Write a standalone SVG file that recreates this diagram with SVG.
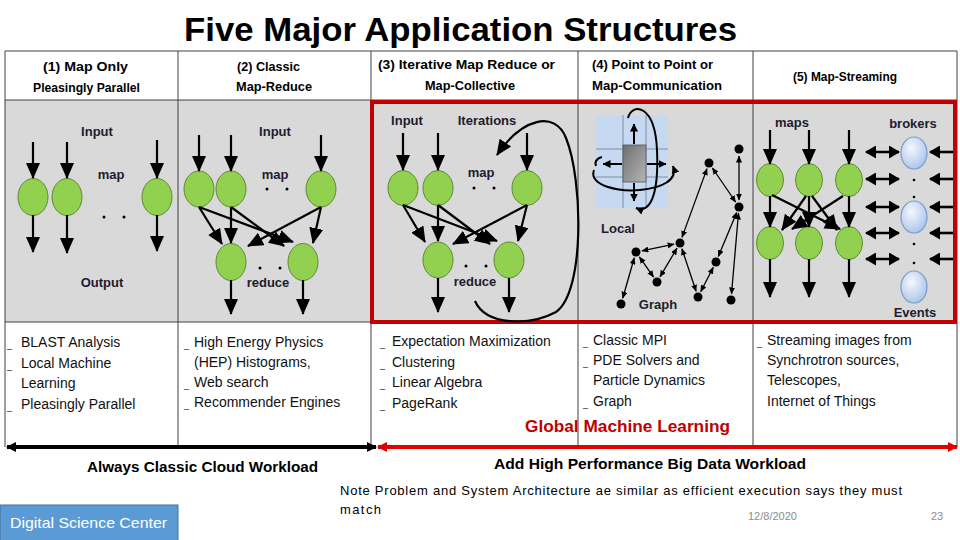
<svg xmlns="http://www.w3.org/2000/svg" width="960" height="540" viewBox="0 0 960 540">
<defs>
<style>
.t{font-family:"Liberation Sans",Arial,sans-serif;fill:#000}
.hd{font-size:13px;font-weight:bold}
.lb{font-size:13px;font-weight:bold;fill:#1c1c30}
.li{font-size:14px;fill:#111}
.bu{font-size:9px;fill:#111}
.g{fill:#92d050;stroke:#5f8a34;stroke-width:1}
.br{fill:url(#bg);stroke:#7a9bc7;stroke-width:1.2}
.ar{stroke:#000;stroke-width:2.2;fill:none;marker-end:url(#ah)}
.da{stroke:#000;stroke-width:2.6;fill:none;marker-end:url(#ad);marker-start:url(#ad)}
.la{stroke:#000;stroke-width:2.6;fill:none;marker-end:url(#ad)}
.ge{stroke:#000;stroke-width:1.3;fill:none;marker-end:url(#as);marker-start:url(#as)}
.sa{stroke:#000;stroke-width:2;fill:none;marker-end:url(#am)}
.grid{stroke:#7f8ea3;stroke-width:1}
.cl{stroke:#404040;stroke-width:1}
</style>
<marker id="ah" viewBox="0 0 16 14" refX="15" refY="7" markerWidth="16" markerHeight="14" markerUnits="userSpaceOnUse" orient="auto-start-reverse"><path d="M0,0 L16,7 L0,14 z" fill="#000"/></marker>
<marker id="ad" viewBox="0 0 11 13" refX="10" refY="6.5" markerWidth="11" markerHeight="13" markerUnits="userSpaceOnUse" orient="auto-start-reverse"><path d="M0,0 L11,6.5 L0,13 z" fill="#000"/></marker>
<marker id="as" viewBox="0 0 7 6" refX="6.5" refY="3" markerWidth="7" markerHeight="6" markerUnits="userSpaceOnUse" orient="auto-start-reverse"><path d="M0,0 L7,3 L0,6 z" fill="#000"/></marker>
<marker id="am" viewBox="0 0 8 8" refX="7.5" refY="4" markerWidth="8" markerHeight="8" markerUnits="userSpaceOnUse" orient="auto-start-reverse"><path d="M0,0 L8,4 L0,8 z" fill="#000"/></marker>
<marker id="bk" viewBox="0 0 10 10" refX="9" refY="5" markerWidth="10" markerHeight="10" markerUnits="userSpaceOnUse" orient="auto-start-reverse"><path d="M0,0 L10,5 L0,10 z" fill="#000"/></marker>
<marker id="rd" viewBox="0 0 10 10" refX="9" refY="5" markerWidth="10" markerHeight="10" markerUnits="userSpaceOnUse" orient="auto-start-reverse"><path d="M0,0 L10,5 L0,10 z" fill="#e00000"/></marker>
<radialGradient id="bg" cx="0.4" cy="0.35" r="0.7"><stop offset="0" stop-color="#f4f8fe"/><stop offset="1" stop-color="#a9c3e8"/></radialGradient>
<linearGradient id="gb" x1="0" y1="0" x2="1" y2="1"><stop offset="0" stop-color="#6f6f6f"/><stop offset="1" stop-color="#b5b5b5"/></linearGradient>
</defs>
<rect width="960" height="540" fill="#fff"/>

<text class="t" x="184" y="41" font-size="34" font-weight="bold" textLength="553" lengthAdjust="spacingAndGlyphs">Five Major Application Structures</text>

<g id="table">
<rect x="5" y="100" width="952" height="222" fill="#d9d9d9"/>
<line class="cl" x1="5" y1="51" x2="957" y2="51" stroke="#7f7f7f"/>
<line class="cl" x1="5" y1="100" x2="957" y2="100"/>
<line class="cl" x1="5" y1="322" x2="957" y2="322"/>
<line class="cl" x1="5" y1="51" x2="5" y2="447"/>
<line class="cl" x1="178" y1="51" x2="178" y2="447"/>
<line class="cl" x1="371" y1="51" x2="371" y2="447"/>
<line class="cl" x1="578" y1="51" x2="578" y2="447"/>
<line class="cl" x1="753" y1="51" x2="753" y2="447"/>
<line class="cl" x1="957" y1="51" x2="957" y2="447"/>
</g>

<g id="headers">
<text class="t hd" x="43" y="71" textLength="85" lengthAdjust="spacingAndGlyphs">(1)  Map Only</text>
<text class="t hd" x="33" y="92" textLength="107" lengthAdjust="spacingAndGlyphs">Pleasingly Parallel</text>
<text class="t hd" x="237" y="71" textLength="63" lengthAdjust="spacingAndGlyphs">(2)  Classic</text>
<text class="t hd" x="236" y="91" textLength="76" lengthAdjust="spacingAndGlyphs">Map-Reduce</text>
<text class="t hd" x="378" y="69" textLength="177" lengthAdjust="spacingAndGlyphs">(3)  Iterative    Map Reduce or</text>
<text class="t hd" x="425" y="90" textLength="90" lengthAdjust="spacingAndGlyphs">Map-Collective</text>
<text class="t hd" x="592" y="69" textLength="121" lengthAdjust="spacingAndGlyphs">(4) Point to Point or</text>
<text class="t hd" x="592" y="90" textLength="130" lengthAdjust="spacingAndGlyphs">Map-Communication</text>
<text class="t hd" x="793" y="81" textLength="104" lengthAdjust="spacingAndGlyphs">(5) Map-Streaming</text>
</g>

<!-- Panel 1 -->
<g id="panel1">
<text class="t lb" x="97" y="136" text-anchor="middle">Input</text>
<text class="t lb" x="111" y="179" text-anchor="middle">map</text>
<text class="t lb" x="102" y="287" text-anchor="middle">Output</text>
<circle cx="104" cy="217" r="1.5"/><circle cx="124" cy="217" r="1.5"/>
<g id="p1m1"><ellipse class="g" cx="33" cy="197" rx="15" ry="18.5"/></g>
<g id="p1m2"><ellipse class="g" cx="67" cy="197" rx="15" ry="18.5"/></g>
<g id="p1m3"><ellipse class="g" cx="157" cy="197" rx="15" ry="18.5"/></g>
</g>

<!-- Panel 2 -->
<g id="panel2">
<text class="t lb" x="275" y="136" text-anchor="middle">Input</text>
<text class="t lb" x="275" y="179" text-anchor="middle">map</text>
<circle cx="267" cy="189" r="1.5"/><circle cx="287" cy="189" r="1.5"/>
<text class="t lb" x="268" y="287" text-anchor="middle">reduce</text>
<circle cx="260" cy="268" r="1.5"/><circle cx="280" cy="268" r="1.5"/>
<g id="p2m1"><ellipse class="g" cx="199" cy="189" rx="15" ry="18"/></g>
<g id="p2m2"><ellipse class="g" cx="231" cy="189" rx="15" ry="18"/></g>
<g id="p2m3"><ellipse class="g" cx="321" cy="189" rx="15" ry="18"/></g>
<g id="p2r1"><ellipse class="g" cx="231" cy="262" rx="15" ry="18.5"/></g>
<g id="p2r2"><ellipse class="g" cx="303" cy="262" rx="15" ry="18.5"/></g>
</g>

<!-- Panel 3 -->
<g id="panel3">
<text class="t lb" x="407" y="125" text-anchor="middle">Input</text>
<text class="t lb" x="487" y="125" text-anchor="middle">Iterations</text>
<text class="t lb" x="481" y="177" text-anchor="middle">map</text>
<circle cx="474" cy="188" r="1.5"/><circle cx="494" cy="188" r="1.5"/>
<text class="t lb" x="475" y="286" text-anchor="middle">reduce</text>
<circle cx="466" cy="266" r="1.5"/><circle cx="486" cy="266" r="1.5"/>
<g id="p3m1"><ellipse class="g" cx="403" cy="188" rx="15" ry="17.5"/></g>
<g id="p3m2"><ellipse class="g" cx="438" cy="188" rx="15" ry="17.5"/></g>
<g id="p3m3"><ellipse class="g" cx="527" cy="188" rx="15" ry="17.5"/></g>
<g id="p3r1"><ellipse class="g" cx="438" cy="260" rx="15" ry="18"/></g>
<g id="p3r2"><ellipse class="g" cx="509" cy="260" rx="15" ry="18"/></g>
</g>

<!-- Panel 4 -->
<g id="panel4">
<g id="local">
<rect x="596" y="115" width="72" height="93" fill="#c6d9f1"/>
<line class="grid" x1="623" y1="115" x2="623" y2="208"/>
<line class="grid" x1="646" y1="115" x2="646" y2="208"/>
<line class="grid" x1="596" y1="149" x2="668" y2="149"/>
<line class="grid" x1="596" y1="177" x2="668" y2="177"/>
<rect x="623" y="145" width="23" height="37" fill="url(#gb)" stroke="#555" stroke-width="0.8"/>
<line class="sa" x1="634" y1="144" x2="634" y2="124"/>
<line class="sa" x1="622" y1="164" x2="603" y2="164"/>
<line class="sa" x1="647" y1="164" x2="666" y2="164"/>
<line class="sa" x1="634" y1="183" x2="634" y2="201"/>
<path class="sa" d="M594,170 C588,186 620,192 640,190 C662,188 678,180 673,166"/>
<path d="M596,166 C594,161 598,158 602,157" stroke="#000" stroke-width="2" fill="none"/>
<path class="sa" d="M628,118 C632,102 655,104 657,150 C659,195 650,214 636,208"/>
<text class="t lb" x="618" y="233" text-anchor="middle">Local</text>
</g>
<g id="graph">
<text class="t lb" x="658" y="309" text-anchor="middle">Graph</text>
<g id="ga"><circle cx="739" cy="149" r="4.5"/></g>
<g id="gb1"><circle cx="709" cy="163" r="4.5"/></g>
<g id="gc"><circle cx="739" cy="207" r="4.5"/></g>
<g id="gd"><circle cx="680" cy="243" r="4.5"/></g>
<g id="ge"><circle cx="636" cy="252" r="4.5"/></g>
<g id="gf"><circle cx="657" cy="282" r="4.5"/></g>
<g id="gg"><circle cx="716" cy="262" r="4.5"/></g>
<g id="gh"><circle cx="698" cy="297" r="4.5"/></g>
<g id="gi"><circle cx="731" cy="300" r="4.5"/></g>
<g id="gj"><circle cx="621" cy="304" r="4.5"/></g>
</g>
</g>

<!-- Panel 5 -->
<g id="panel5">
<text class="t lb" x="792" y="127" text-anchor="middle">maps</text>
<text class="t lb" x="913" y="128" text-anchor="middle">brokers</text>
<text class="t lb" x="915" y="317" text-anchor="middle">Events</text>
<g id="p5m1"><ellipse class="g" cx="770" cy="180" rx="13.5" ry="16.5"/></g>
<g id="p5m2"><ellipse class="g" cx="809" cy="180" rx="13.5" ry="16.5"/></g>
<g id="p5m3"><ellipse class="g" cx="849" cy="180" rx="13.5" ry="16.5"/></g>
<g id="p5s1"><ellipse class="g" cx="770" cy="243" rx="13.5" ry="16.5"/></g>
<g id="p5s2"><ellipse class="g" cx="809" cy="243" rx="13.5" ry="16.5"/></g>
<g id="p5s3"><ellipse class="g" cx="849" cy="243" rx="13.5" ry="16.5"/></g>
<g id="b1"><ellipse class="br" cx="914" cy="153" rx="13" ry="16"/></g>
<g id="b2"><ellipse class="br" cx="914" cy="217" rx="13" ry="16"/></g>
<g id="b3"><ellipse class="br" cx="914" cy="287" rx="13" ry="16"/></g>
<circle cx="914" cy="180" r="1.3"/><circle cx="914" cy="197" r="1.3"/>
<circle cx="914" cy="244" r="1.3"/><circle cx="914" cy="263" r="1.3"/>
</g>

<!-- Red highlight box -->
<rect x="372" y="102" width="583" height="220" fill="none" stroke="#c00000" stroke-width="4"/>

<g id="connectors">
<!-- panel 1 -->
<line class="ar" x1="33" y1="142" x2="33" y2="178"/>
<line class="ar" x1="67" y1="142" x2="67" y2="178"/>
<line class="ar" x1="157" y1="140" x2="157" y2="178"/>
<line class="ar" x1="33" y1="215" x2="33" y2="252"/>
<line class="ar" x1="67" y1="215" x2="67" y2="253"/>
<line class="ar" x1="157" y1="215" x2="157" y2="251"/>
<!-- panel 2 -->
<line class="ar" x1="199" y1="135" x2="199" y2="171"/>
<line class="ar" x1="231" y1="135" x2="231" y2="171"/>
<line class="ar" x1="321" y1="135" x2="321" y2="171"/>
<line class="ar" x1="199" y1="207" x2="222" y2="244"/>
<line class="ar" x1="199" y1="207" x2="293" y2="242"/>
<line class="ar" x1="231" y1="207" x2="231" y2="243"/>
<line class="ar" x1="231" y1="207" x2="284" y2="246"/>
<line class="ar" x1="321" y1="207" x2="248" y2="246"/>
<line class="ar" x1="321" y1="207" x2="313" y2="243"/>
<line class="ar" x1="231" y1="280" x2="231" y2="314"/>
<line class="ar" x1="303" y1="280" x2="303" y2="314"/>
<!-- panel 3 -->
<line class="ar" x1="403" y1="133" x2="403" y2="170"/>
<line class="ar" x1="438" y1="133" x2="438" y2="170"/>
<line class="ar" x1="527" y1="133" x2="527" y2="170"/>
<line class="ar" x1="403" y1="205" x2="425" y2="242"/>
<line class="ar" x1="403" y1="205" x2="497" y2="241"/>
<line class="ar" x1="438" y1="205" x2="438" y2="241"/>
<line class="ar" x1="438" y1="205" x2="490" y2="244"/>
<line class="ar" x1="527" y1="205" x2="453" y2="244"/>
<line class="ar" x1="527" y1="205" x2="518" y2="241"/>
<line class="ar" x1="438" y1="278" x2="438" y2="312"/>
<line class="ar" x1="509" y1="278" x2="509" y2="312"/>
<path class="ar" d="M475,301 C486,326 530,326 556,312 C585,292 583,180 566,138 C555,110 522,118 497,155"/>
<!-- panel 4 graph edges -->
<line class="ge" x1="739" y1="156" x2="739" y2="200"/>
<line class="ge" x1="712.4" y1="168" x2="735.6" y2="202"/>
<line class="ge" x1="707" y1="168.6" x2="682" y2="237.4"/>
<line class="ge" x1="674.1" y1="244.2" x2="641.9" y2="250.8"/>
<line class="ge" x1="639.4" y1="256.9" x2="653.6" y2="277.1"/>
<line class="ge" x1="660" y1="276.8" x2="677" y2="248.2"/>
<line class="ge" x1="681.9" y1="248.7" x2="696.1" y2="291.3"/>
<line class="ge" x1="700.7" y1="291.7" x2="713.3" y2="267.3"/>
<line class="ge" x1="718.3" y1="256.5" x2="736.7" y2="212.5"/>
<line class="ge" x1="738.5" y1="213" x2="731.5" y2="294"/>
<line class="ge" x1="634.3" y1="257.8" x2="622.7" y2="298.2"/>
<!-- panel 5 -->
<line class="ar" x1="770" y1="130" x2="770" y2="164"/>
<line class="ar" x1="809" y1="130" x2="809" y2="164"/>
<line class="ar" x1="849" y1="130" x2="849" y2="164"/>
<line class="ar" x1="770" y1="196" x2="770" y2="227"/>
<line class="ar" x1="809" y1="196" x2="809" y2="227"/>
<line class="ar" x1="849" y1="196" x2="849" y2="227"/>
<line class="ar" x1="772" y1="195" x2="840" y2="229"/>
<line class="ar" x1="806" y1="196" x2="782" y2="230"/>
<line class="ar" x1="812" y1="196" x2="837" y2="230"/>
<line class="ar" x1="843" y1="196" x2="792" y2="229"/>
<line class="ar" x1="770" y1="259" x2="770" y2="297"/>
<line class="ar" x1="809" y1="259" x2="809" y2="297"/>
<line class="ar" x1="849" y1="259" x2="849" y2="297"/>
<line class="da" x1="866" y1="152" x2="899" y2="152"/>
<line class="da" x1="866" y1="179" x2="899" y2="179"/>
<line class="da" x1="866" y1="207" x2="899" y2="207"/>
<line class="da" x1="866" y1="233" x2="899" y2="233"/>
<line class="da" x1="866" y1="259" x2="899" y2="259"/>
<line class="la" x1="953" y1="152" x2="930" y2="152"/>
<line class="la" x1="953" y1="179" x2="930" y2="179"/>
<line class="la" x1="953" y1="207" x2="930" y2="207"/>
<line class="la" x1="953" y1="233" x2="930" y2="233"/>
<line class="la" x1="953" y1="259" x2="930" y2="259"/>
<!-- workload arrows -->
<line x1="7" y1="447" x2="376" y2="447" stroke="#000" stroke-width="4" marker-start="url(#bk)" marker-end="url(#bk)"/>
<line x1="378" y1="447" x2="957" y2="447" stroke="#e00000" stroke-width="4" marker-start="url(#rd)" marker-end="url(#rd)"/>
</g>

<g id="lists">
<text class="t bu" x="7" y="348">_</text><text class="t li" x="21" y="347">BLAST Analysis</text>
<text class="t bu" x="7" y="369">_</text><text class="t li" x="21" y="368">Local Machine</text>
<text class="t li" x="21" y="388">Learning</text>
<text class="t bu" x="7" y="410">_</text><text class="t li" x="21" y="409">Pleasingly Parallel</text>

<text class="t bu" x="184" y="348">_</text><text class="t li" x="194" y="347">High Energy Physics</text>
<text class="t li" x="194" y="367">(HEP) Histograms,</text>
<text class="t bu" x="184" y="388">_</text><text class="t li" x="194" y="387">Web search</text>
<text class="t bu" x="184" y="408">_</text><text class="t li" x="194" y="407">Recommender Engines</text>

<text class="t bu" x="380" y="347">_</text><text class="t li" x="392" y="346">Expectation Maximization</text>
<text class="t bu" x="380" y="368">_</text><text class="t li" x="392" y="367">Clustering</text>
<text class="t bu" x="380" y="388">_</text><text class="t li" x="392" y="387">Linear Algebra</text>
<text class="t bu" x="380" y="409">_</text><text class="t li" x="392" y="408">PageRank</text>

<text class="t bu" x="583" y="346">_</text><text class="t li" x="593" y="345">Classic MPI</text>
<text class="t bu" x="583" y="366">_</text><text class="t li" x="593" y="365">PDE Solvers and</text>
<text class="t li" x="593" y="385">Particle Dynamics</text>
<text class="t bu" x="583" y="407">_</text><text class="t li" x="593" y="406">Graph</text>

<text class="t bu" x="757" y="346">_</text><text class="t li" x="767" y="345">Streaming images from</text>
<text class="t li" x="767" y="365">Synchrotron sources,</text>
<text class="t li" x="767" y="385">Telescopes,</text>
<text class="t li" x="767" y="406">Internet  of Things</text>

<text class="t" x="525" y="432" font-size="16" font-weight="bold" style="fill:#c00000" textLength="205" lengthAdjust="spacingAndGlyphs">Global Machine Learning</text>
</g>

<g id="footer">
<text class="t" x="87" y="472" font-size="15" font-weight="bold" textLength="231" lengthAdjust="spacingAndGlyphs">Always Classic Cloud Workload</text>
<text class="t" x="494" y="469" font-size="15" font-weight="bold" textLength="312" lengthAdjust="spacingAndGlyphs">Add High Performance Big Data Workload</text>
<text class="t" x="340" y="495" font-size="13" textLength="562" lengthAdjust="spacing">Note Problem and System Architecture ae similar as efficient execution says they must</text>
<text class="t" x="340" y="514" font-size="13" textLength="41" lengthAdjust="spacing">match</text>
<text class="t" x="748" y="520" font-size="11" style="fill:#8c8c8c">12/8/2020</text>
<text class="t" x="931" y="520" font-size="11" style="fill:#8c8c8c">23</text>
<g id="dsc">
<rect x="0" y="505" width="178" height="36" fill="#5b9bd5" stroke="#41719c" stroke-width="1"/>
<text class="t" x="10" y="528" font-size="15" style="fill:#fff" textLength="157" lengthAdjust="spacingAndGlyphs">Digital Science Center</text>
</g>
</g>
</svg>
